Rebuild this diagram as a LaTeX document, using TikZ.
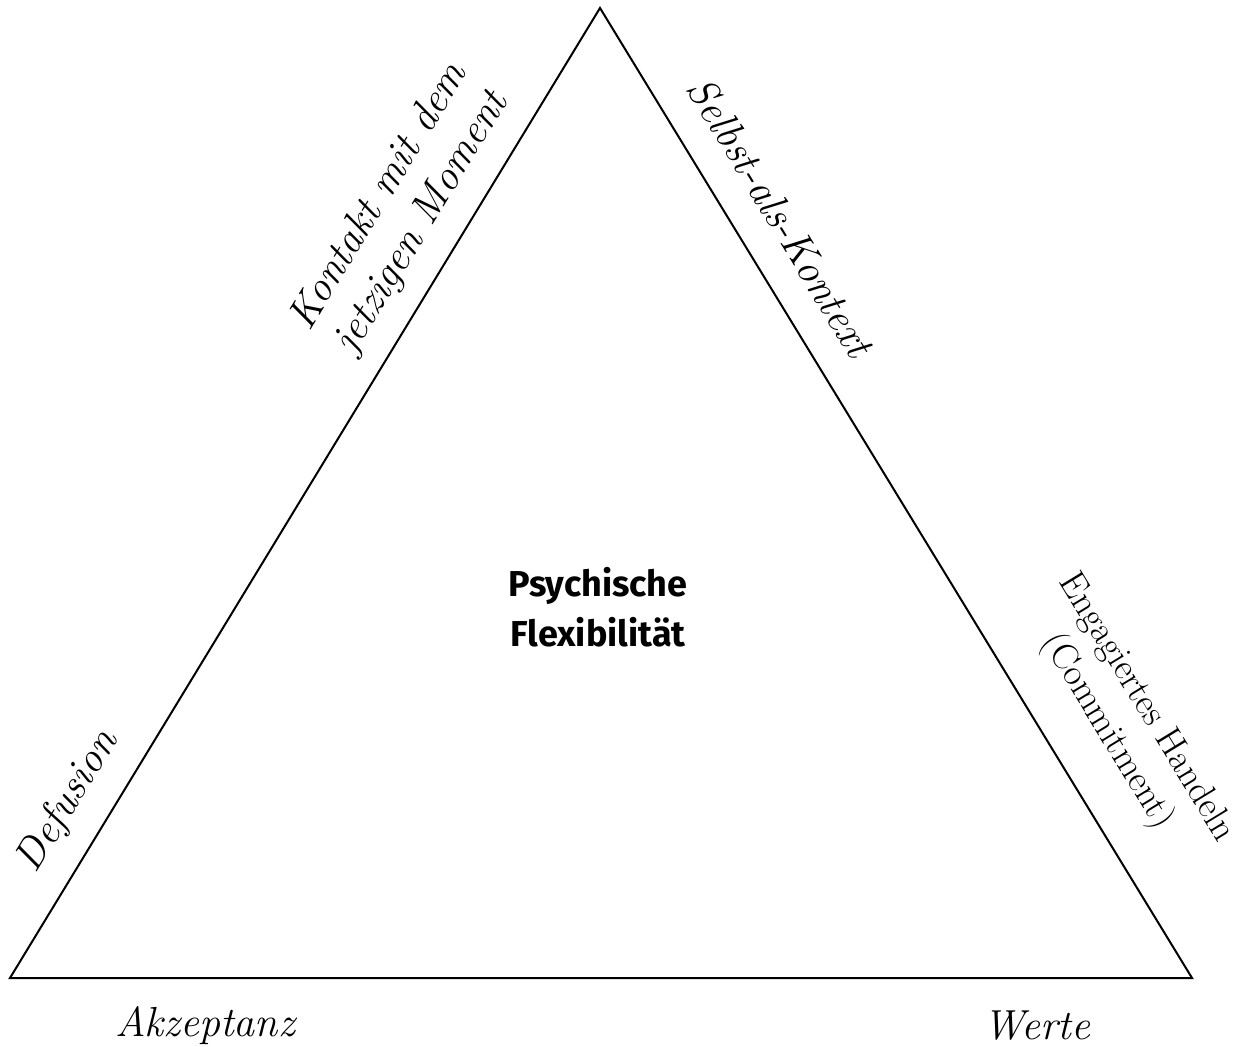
\documentclass[tikz,border=0pt]{standalone}
\usepackage{fontspec}
\newfontfamily\ctrfont{Fira Sans}
\begin{document}
\begin{tikzpicture}[x=0.5pt,y=-0.5pt,
  side/.style={font=\fontsize{21}{25}\selectfont\itshape, align=center, inner sep=0pt},
  sideup/.style={font=\fontsize{18.5}{23}\selectfont, align=center, inner sep=0pt},
  ctr/.style={font=\ctrfont\bfseries\fontsize{18}{25}\selectfont, align=center, inner sep=0pt}]
\useasboundingbox (0,0) rectangle (1240,1047);
\coordinate (A) at (10,978);
\coordinate (T) at (600,8);
\coordinate (B) at (1192,978);
\draw[line width=1pt, line join=miter] (A) -- (T) -- (B) -- cycle;
\node[side, rotate=58.7] (kontakt) at (401,210) {Kontakt mit dem\\jetzigen Moment};
\node[side, rotate=-58.6] (selbst) at (781,217) {Selbst-als-Kontext};
\node[sideup, rotate=-58.6] (engag) at (1126,720) {Engagiertes Handeln\\(Commitment)};
\node[side, rotate=58.7] (defus) at (68,802) {Defusion};
\node[ctr] (psy) at (598,607) {Psychische\\Flexibilität};
\node[side] (akz) at (205,1026) {Akzeptanz};
\node[side] (werte) at (1037,1026) {Werte};
\end{tikzpicture}
\end{document}
